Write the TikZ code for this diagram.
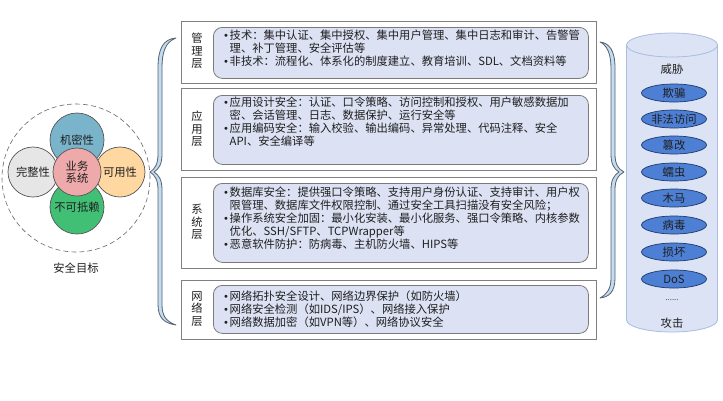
\documentclass[tikz,border=0pt]{standalone}
\usepackage{fontspec}
\setmainfont{Noto Sans CJK SC}
\newfontfamily\bulfont{DejaVu Sans}
\usetikzlibrary{shapes.geometric}
\definecolor{outgray}{HTML}{808080}
\definecolor{ingray}{HTML}{7A7A7A}
\definecolor{inblue}{HTML}{DCE2F4}
\definecolor{cborder}{HTML}{555555}
\definecolor{cblue}{HTML}{7AB4CA}
\definecolor{cgray}{HTML}{E6E6E6}
\definecolor{corange}{HTML}{FFD7A1}
\definecolor{cgreen}{HTML}{41BF75}
\definecolor{cpink}{HTML}{EEA9AB}
\definecolor{bracefill}{HTML}{C4DCF0}
\definecolor{bracedark}{HTML}{556270}
\definecolor{cylfill}{HTML}{DCE3F4}
\definecolor{cylborder}{HTML}{A8BCE6}
\definecolor{efill}{HTML}{4D7FD4}
\definecolor{eborder}{HTML}{1F3A6B}
\newcommand\bul{\makebox[6.5pt][l]{\bulfont\fontsize{10}{10}\selectfont •}}
\newcommand\hang{\hspace*{6.5pt}}
\begin{document}
\begin{tikzpicture}[x=1pt,y=-1pt,
  font=\fontsize{11.3}{13}\selectfont,
  outerbox/.style={draw=outgray, line width=0.8pt, fill=white, inner sep=0, anchor=north west},
  innerbox/.style={draw=ingray, fill=inblue, rounded corners=9pt, line width=0.8pt, inner sep=0, anchor=north west},
  bodytext/.style={anchor=north west, align=left, inner sep=0, text=black!88},
  vlabel/.style={align=center, inner sep=0, font=\fontsize{11.3}{12.5}\selectfont, text=black!88},
  goal/.style={circle, draw=cborder, line width=0.7pt, inner sep=0, text=black!88},
  threat/.style={ellipse, draw=eborder, line width=0.7pt, fill=efill, minimum width=65, minimum height=18, inner sep=0, text=black!88},
  bracestyle/.style={fill=bracefill, draw=bracedark, line width=0.8pt, line join=round}]
\fill[white] (0,0) rectangle (723,400);
\useasboundingbox (0,0) rectangle (723,400);

% ---- left: security goals
\node[circle, draw=black!60, dashed, dash pattern=on 5pt off 3pt, line width=0.6pt, minimum size=148, inner sep=0] (goalring) at (76,178) {};
\node[goal, fill=cgray, minimum size=50] (wz) at (33,172) {完整性};
\node[goal, fill=corange, minimum size=50] (ky) at (120,172) {可用性};
\node[goal, fill=cblue, minimum size=54] (jm) at (77,140) {机密性};
\node[goal, fill=cgreen, minimum size=54] (bk) at (77,207) {\raisebox{-2pt}{不可抵赖}};
\node[goal, fill=cpink, minimum size=48, align=center, font=\fontsize{11.3}{12.5}\selectfont] (yw) at (77,172) {业务\\系统};
\node[text=black!88] (goallbl) at (76,268) {安全目标};

% ---- left brace
\path[bracestyle] (176,38) .. controls (163,39) and (158,49) .. (158,68) -- (158,154)
  .. controls (158,164) and (155,169) .. (150,172) .. controls (155,175) and (158,180) .. (158,190)
  -- (158,304) .. controls (158,317) and (163,323) .. (176,325)
  .. controls (165,321) and (162,315) .. (162,304) -- (162,190)
  .. controls (162,180) and (159,175) .. (154,172) .. controls (159,169) and (162,164) .. (162,154)
  -- (162,68) .. controls (162,53) and (165,42) .. (176,38) -- cycle;

% ---- layers
\node[outerbox, minimum width=415, minimum height=62] (L1) at (181,21) {};
\node[outerbox, minimum width=415, minimum height=82] (L2) at (181,88) {};
\node[outerbox, minimum width=415, minimum height=91] (L3) at (181,177) {};
\node[outerbox, minimum width=415, minimum height=59] (L4) at (181,280) {};

\node[innerbox, minimum width=375, minimum height=51] (I1) at (213,27) {};
\node[innerbox, minimum width=375, minimum height=69] (I2) at (213,95) {};
\node[innerbox, minimum width=375, minimum height=79] (I3) at (213,183) {};
\node[innerbox, minimum width=375, minimum height=48] (I4) at (213,285) {};

\node[vlabel] (V1) at (197,51) {管\\理\\层};
\node[vlabel] (V2) at (197,129) {应\\用\\层};
\node[vlabel] (V3) at (197,222) {系\\统\\层};
\node[vlabel] (V4) at (197,309) {网\\络\\层};

\node[bodytext] (T1) at (223,29.5) {%
\bul 技术：集中认证、集中授权、集中用户管理、集中日志和审计、告警管\\
\hang 理、补丁管理、安全评估等\\
\bul 非技术：流程化、体系化的制度建立、教育培训、SDL、文档资料等};

\node[bodytext] (T2) at (223,96.5) {%
\bul 应用设计安全：认证、口令策略、访问控制和授权、用户敏感数据加\\
\hang 密、会话管理、日志、数据保护、运行安全等\\
\bul 应用编码安全：输入校验、输出编码、异常处理、代码注释、安全\\
\hang API、安全编译等};

\node[bodytext] (T3) at (223,186.5) {%
\bul 数据库安全：提供强口令策略、支持用户身份认证、支持审计、用户权\\
\hang 限管理、数据库文件权限控制、通过安全工具扫描没有安全风险；\\
\bul 操作系统安全加固：最小化安装、最小化服务、强口令策略、内核参数\\
\hang 优化、SSH/SFTP、TCPWrapper等\\
\bul 恶意软件防护：防病毒、主机防火墙、HIPS等};

\node[bodytext] (T4) at (223,290.5) {%
\bul 网络拓扑安全设计、网络边界保护（如防火墙）\\
\bul 网络安全检测（如IDS/IPS）、网络接入保护\\
\bul 网络数据加密（如VPN等）、网络协议安全};

% ---- right brace
\path[bracestyle] (600,42) .. controls (609,43) and (615,50) .. (615,68) -- (615,154)
  .. controls (615,164) and (618,169) .. (624,172) .. controls (618,175) and (615,180) .. (615,190)
  -- (615,278) .. controls (615,292) and (609,297) .. (600,298)
  .. controls (607,294) and (611,289) .. (611,278) -- (611,190)
  .. controls (611,180) and (614,175) .. (619,172) .. controls (614,169) and (611,164) .. (611,154)
  -- (611,68) .. controls (611,54) and (607,45) .. (600,42) -- cycle;

% ---- threat cylinder
\path[fill=cylfill, draw=cylborder, line width=0.8pt] (626.5,45) -- (626.5,320) arc[start angle=180, end angle=0, x radius=45.5, y radius=12] -- (717.5,45) -- cycle;
\draw[fill=cylfill, draw=cylborder, line width=0.8pt] (672,45) ellipse[x radius=45.5, y radius=12];

\node[text=black!88] (wx) at (672,69) {威胁};
\node[threat] (e1) at (674,93) {欺骗};
\node[threat] (e2) at (674,119) {非法访问};
\node[threat] (e3) at (674,145) {篡改};
\node[threat] (e4) at (674,172) {蠕虫};
\node[threat] (e5) at (674,198) {木马};
\node[threat] (e6) at (674,225) {病毒};
\node[threat] (e7) at (674,252) {损坏};
\node[threat] (e8) at (674,279) {DoS};
\node[text=black!70, font=\fontsize{8}{8}\selectfont] (dots) at (672,300) {......};
\node[text=black!88] (gj) at (672,323) {攻击};
\end{tikzpicture}
\end{document}
